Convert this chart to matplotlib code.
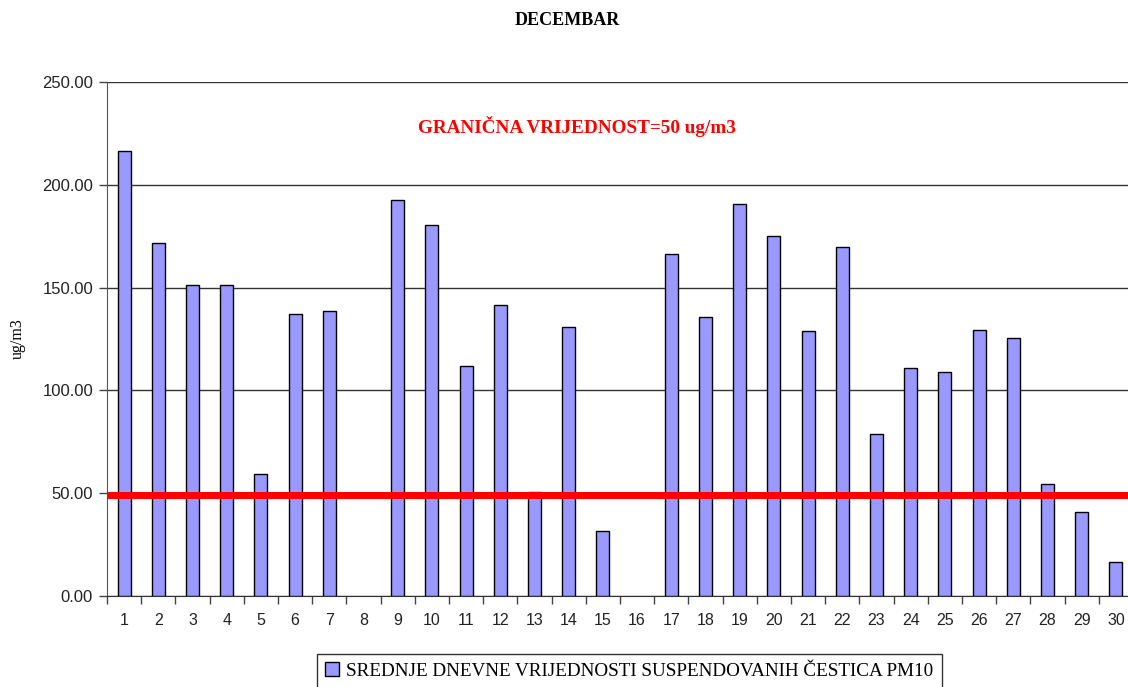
import numpy as np
import matplotlib.pyplot as plt

days = list(range(1, 31))
pm10 = [216.4, 171.7, 151.3, 151.3, 59.3, 137.2, 138.6, 0, 192.6, 180.4,
        111.9, 141.5, 50.6, 130.8, 31.6, 0, 166.3, 135.7, 190.7, 175.1,
        128.9, 169.7, 78.8, 110.9, 109.0, 129.4, 125.5, 54.5, 40.9, 16.5]
limit = 49
yticks = [0, 50, 100, 150, 200, 250]

fig = plt.figure(figsize=(11.28, 6.87), dpi=100)
ax = fig.add_axes([107 / 1128, 1 - 596 / 687, 1026 / 1128, 514 / 687])

bars = ax.bar(days, pm10, width=0.38, color='#9999ff', edgecolor='black', linewidth=1,
              zorder=3, label='SREDNJE DNEVNE VRIJEDNOSTI SUSPENDOVANIH ČESTICA PM10')
# empty days show no bar at all
for b, v in zip(bars.patches, pm10):
    if v == 0:
        b.set_visible(False)
ax.plot([0.5, 30.5], [limit, limit], color='#ff0000', linewidth=5, solid_capstyle='round', zorder=4)

ax.set_xlim(0.5, 30.5)
ax.set_ylim(0, 250)
ax.set_yticks(yticks)
ax.set_yticklabels(['%.2f' % v for v in yticks], fontfamily='Liberation Sans', fontsize=12, color='#222222')
ax.set_xticks(days)
ax.set_xticklabels([str(d) for d in days], fontfamily='Liberation Sans', fontsize=11.5, color='#222222')
ax.set_xticks(np.arange(0.5, 31, 1), minor=True)
ax.tick_params(axis='x', which='major', length=0, pad=12)
ax.tick_params(axis='x', which='minor', length=6, color='#444444', width=1)
ax.tick_params(axis='y', length=6, color='#444444', width=1, pad=4)
ax.yaxis.grid(True, color='#333333', linewidth=1, zorder=0)
for s in ['top', 'right']:
    ax.spines[s].set_visible(False)
ax.spines['left'].set_color('#555555')
ax.spines['bottom'].set_color('#333333')

ax.set_ylabel('ug/m3', fontfamily='Liberation Serif', fontsize=11.5, labelpad=12)
fig.text(0.503, 0.97, 'DECEMBAR', ha='center', va='center', fontfamily='Liberation Serif',
         fontsize=13, fontweight='bold')
ax.text(14.25, 228.5, 'GRANIČNA VRIJEDNOST=50 ug/m3', ha='center', va='center', color='#ff0000',
        fontfamily='Liberation Serif', fontsize=13.8, fontweight='bold')

leg = fig.legend(handles=[bars], loc='center', bbox_to_anchor=(0.558, 0.023),
                 prop={'family': 'Liberation Serif', 'size': 13.8}, frameon=True, fancybox=False,
                 edgecolor='black', handlelength=0.7, handleheight=0.7, handletextpad=0.4,
                 borderpad=0.45)
leg.get_frame().set_linewidth(1)

fig.savefig('out.png', dpi=100)
